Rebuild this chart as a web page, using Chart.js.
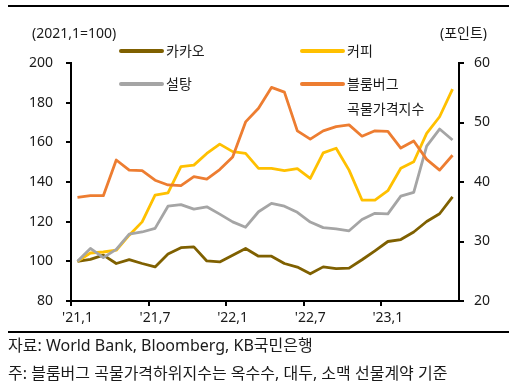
<!DOCTYPE html>
<html>
<head>
<meta charset="utf-8">
<script src="https://cdn.jsdelivr.net/npm/chart.js@4"></script>
<style>
  body { margin: 0; background: #fff; font-family: 'Noto Sans', 'Noto Sans CJK KR', sans-serif; color: #1a1a1a; }
  #wrap { position: relative; width: 518px; height: 392px; overflow: hidden; }
  canvas { position: absolute; left: 0; top: 0; }
  .t { position: absolute; white-space: nowrap; line-height: 18px; }
  .rule { position: absolute; left: 8px; width: 501px; background: #000; }
</style>
</head>
<body>
<div id="wrap">
  <div class="rule" style="top:5px;height:2px"></div>
  <canvas id="myChart" width="518" height="392"></canvas>
  <div class="t" style="left:32px;top:24px;font-size:14px">(2021,1=100)</div>
  <div class="t" style="left:440px;top:24px;font-size:14px">(포인트)</div>
  <div class="rule" style="top:331px;height:1.5px"></div>
  <div class="t" style="left:8px;top:336px;font-size:16px">자료: World Bank, Bloomberg, KB국민은행</div>
  <div class="t" style="left:8px;top:364px;font-size:16px">주: 블룸버그 곡물가격하위지수는 옥수수, 대두, 소맥 선물계약 기준</div>
</div>
<script>
// monthly, 2021.1 ~ 2023.6
const months = [
  "'21,1", "'21,2", "'21,3", "'21,4", "'21,5", "'21,6",
  "'21,7", "'21,8", "'21,9", "'21,10", "'21,11", "'21,12",
  "'22,1", "'22,2", "'22,3", "'22,4", "'22,5", "'22,6",
  "'22,7", "'22,8", "'22,9", "'22,10", "'22,11", "'22,12",
  "'23,1", "'23,2", "'23,3", "'23,4", "'23,5", "'23,6"
];

// left axis (2021.1=100)
const cocoa = [100, 101, 103.1, 98.9, 100.9, 98.9, 97.2, 103.7, 106.9, 107.3,
  100.2, 99.7, 103.1, 106.5, 102.6, 102.6, 98.9, 97.1, 93.7, 97.2,
  96.3, 96.6, 100.8, 105.3, 110, 111, 114.8, 120.1, 124, 132.5];
const coffee = [100, 104.2, 104.7, 105.6, 113.2, 119.9, 133.4, 134.5, 147.7, 148.5,
  154.4, 159.1, 155.3, 154.4, 146.9, 146.9, 145.7, 146.7, 141.8, 154.7,
  157, 146, 130.9, 130.9, 135.6, 146.9, 150.2, 164.5, 172.9, 186.8];
const sugar = [100, 106.5, 101.9, 106, 113.7, 114.8, 116.6, 127.8, 128.6, 126.3,
  127.5, 123.8, 119.9, 117.2, 125, 129.2, 127.8, 124.7, 119.8, 117,
  116.4, 115.4, 121.1, 124.2, 123.9, 132.9, 134.8, 158.1, 166.7, 161.2];
// right axis (points)
const grains = [37.4, 37.7, 37.7, 43.7, 42.0, 41.9, 40.3, 39.5, 39.4, 40.9,
  40.5, 42.1, 44.2, 50.1, 52.4, 55.9, 55.1, 48.6, 47.2, 48.6,
  49.3, 49.6, 47.7, 48.6, 48.5, 45.7, 46.9, 43.8, 42.0, 44.5];

const seriesNames = ['카카오', '커피', '설탕', '블룸버그\n곡물가격지수'];
const leftTicks = [80, 100, 120, 140, 160, 180, 200];
const rightTicks = [20, 30, 40, 50, 60];

const colors = ['#7f6000', '#ffc000', '#a5a5a5', '#ed7d31'];
const tickFont = { family: "'Noto Sans', 'Noto Sans CJK KR', sans-serif", size: 14 };

// in-plot legend, two columns
const legendSpots = [
  { x: 121, y: 51 }, { x: 302, y: 51 },
  { x: 121, y: 84 }, { x: 302, y: 84 }
];
const legendPlugin = {
  id: 'inLegend',
  afterDraw(chart) {
    const ctx = chart.ctx;
    ctx.save();
    chart.data.datasets.forEach((ds, i) => {
      const p = legendSpots[i];
      ctx.strokeStyle = ds.borderColor;
      ctx.lineWidth = 4;
      ctx.lineCap = 'round';
      ctx.beginPath();
      ctx.moveTo(p.x, p.y);
      ctx.lineTo(p.x + 41, p.y);
      ctx.stroke();
      ctx.fillStyle = '#1a1a1a';
      ctx.font = "14px 'Noto Sans CJK KR', sans-serif";
      ctx.textBaseline = 'middle';
      ds.label.split('\n').forEach((line, k) => {
        ctx.fillText(line, p.x + 45, p.y + k * 24.5);
      });
    });
    ctx.restore();
  }
};

function line(label, data, color, axis, order) {
  return {
    label, data, yAxisID: axis, order,
    borderColor: color, backgroundColor: color,
    borderWidth: 2.8, pointRadius: 0, tension: 0,
    borderJoinStyle: 'round', fill: false
  };
}

new Chart(document.getElementById('myChart'), {
  type: 'line',
  data: {
    labels: months,
    datasets: [
      line(seriesNames[0], cocoa, colors[0], 'y', 4),
      line(seriesNames[1], coffee, colors[1], 'y', 3),
      line(seriesNames[2], sugar, colors[2], 'y', 2),
      line(seriesNames[3], grains, colors[3], 'y1', 1),
    ],
  },
  options: {
    responsive: false,
    animation: false,
    devicePixelRatio: 1,
    layout: { padding: { left: 0, right: 0, top: 63, bottom: 61 } },
    plugins: { legend: { display: false }, tooltip: { enabled: false } },
    scales: {
      x: {
        offset: true,
        afterFit: (s) => { s.height = 30; },
        border: { display: true, color: '#000', width: 2 },
        grid: {
          offset: true,
          drawOnChartArea: false,
          drawTicks: true,
          tickLength: 5,
          lineWidth: 2,
          color: (c) => (c.index % 6 === 0 ? '#000' : 'rgba(0,0,0,0)'),
        },
        ticks: {
          autoSkip: false,
          maxRotation: 0,
          padding: 4,
          color: '#1a1a1a',
          font: tickFont,
          callback: (v, i) => (i % 6 === 0 ? months[i] : ''),
        },
      },
      y: {
        position: 'left',
        min: leftTicks[0],
        max: leftTicks[leftTicks.length - 1],
        afterFit: (s) => { s.width = 71; },
        afterBuildTicks: (s) => { s.ticks = leftTicks.map((v) => ({ value: v })); },
        border: { display: true, color: '#000', width: 2 },
        grid: { drawOnChartArea: false, tickLength: 5, lineWidth: 2, color: '#000' },
        ticks: { padding: 13, color: '#1a1a1a', font: tickFont },
      },
      y1: {
        position: 'right',
        min: rightTicks[0],
        max: rightTicks[rightTicks.length - 1],
        afterFit: (s) => { s.width = 59; },
        afterBuildTicks: (s) => { s.ticks = rightTicks.map((v) => ({ value: v })); },
        border: { display: true, color: '#000', width: 2 },
        grid: { drawOnChartArea: false, tickLength: 5, lineWidth: 2, color: '#000' },
        ticks: { padding: 10, color: '#1a1a1a', font: tickFont },
      },
    },
  },
  plugins: [legendPlugin],
});
</script>
</body>
</html>
